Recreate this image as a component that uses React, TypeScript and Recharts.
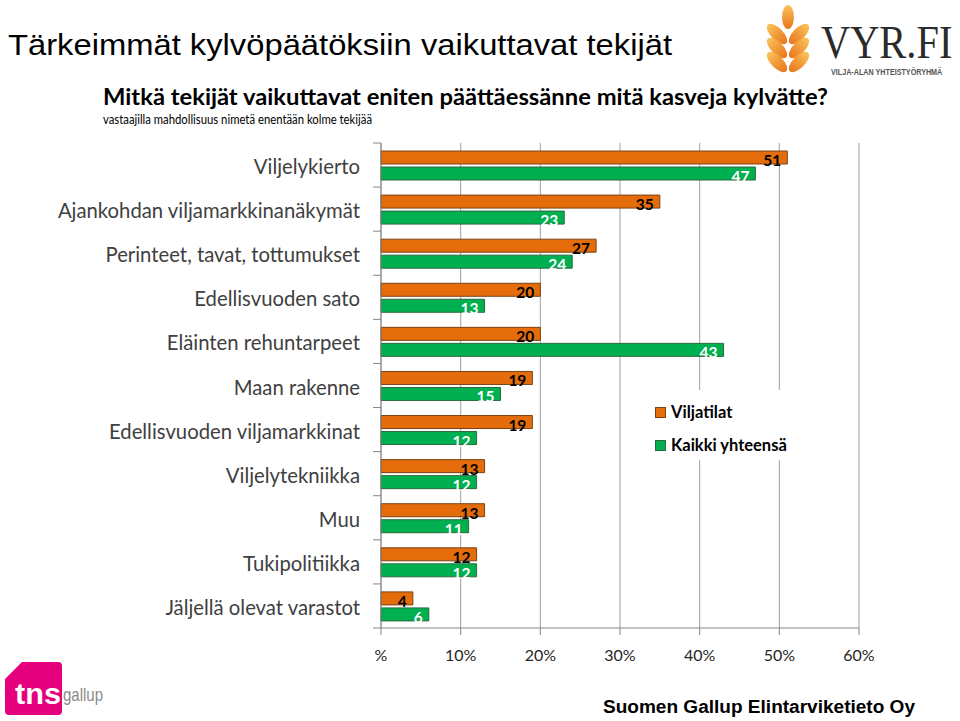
import React from "react";
import {
  BarChart,
  Bar,
  XAxis,
  YAxis,
  CartesianGrid,
  Legend,
  LabelList,
} from "recharts";

const categories = [
  "Viljelykierto",
  "Ajankohdan viljamarkkinanäkymät",
  "Perinteet, tavat, tottumukset",
  "Edellisvuoden sato",
  "Eläinten rehuntarpeet",
  "Maan rakenne",
  "Edellisvuoden viljamarkkinat",
  "Viljelytekniikka",
  "Muu",
  "Tukipolitiikka",
  "Jäljellä olevat varastot",
];

const viljatilat = [51, 35, 27, 20, 20, 19, 19, 13, 13, 12, 4];
const kaikkiYhteensa = [47, 23, 24, 13, 43, 15, 12, 12, 11, 12, 6];

const xTicks = [0, 10, 20, 30, 40, 50, 60];

const SERIES = [
  { key: "viljatilat", name: "Viljatilat", fill: "#E46C0A", stroke: "#7a4214", label: "#000000" },
  { key: "kaikki", name: "Kaikki yhteensä", fill: "#00B050", stroke: "#2c6a3c", label: "#ffffff" },
];

const data = categories.map((name, i) => ({
  name,
  viljatilat: viljatilat[i],
  kaikki: kaikkiYhteensa[i],
}));

const W = 960;
const H = 721;
const PLOT_TOP = 143;
const PLOT_BOTTOM = 628;
const BAND = (PLOT_BOTTOM - PLOT_TOP) / categories.length;

const FONT = "Lato, 'Open Sans', sans-serif";

function CategoryTick(props: any) {
  const { y, payload, index } = props;
  const last = index === categories.length - 1;
  return (
    <g>
      <text
        x={360}
        y={y + 1}
        textAnchor="end"
        dominantBaseline="central"
        fill="#404040"
        fontFamily={FONT}
        fontSize={20.3}
      >
        {payload.value}
      </text>
      <line x1={373} x2={381} y1={y - BAND / 2} y2={y - BAND / 2} stroke="#868686" />
      {last && (
        <line x1={373} x2={381} y1={y + BAND / 2} y2={y + BAND / 2} stroke="#868686" />
      )}
    </g>
  );
}

const makeLabel = (color: string) => (props: any) => {
  const { x, y, width, height, value } = props;
  return (
    <text
      x={x + width - 6}
      y={y + height / 2 + 2.5}
      textAnchor="end"
      dominantBaseline="central"
      fill={color}
      fontFamily={FONT}
      fontWeight={700}
      fontSize={15.5}
    >
      {value}
    </text>
  );
};

function LegendBox() {
  return (
    <div style={{ background: "#fff", width: 205, height: 70, position: "relative" }}>
      {SERIES.map((s, i) => (
        <div
          key={s.key}
          style={{
            position: "absolute",
            left: 10,
            top: 12 + i * 33,
            display: "flex",
            alignItems: "center",
            fontFamily: FONT,
            fontSize: 16.5,
            fontWeight: 700,
            color: "#000",
            lineHeight: "20px",
            whiteSpace: "nowrap",
          }}
        >
          <span
            style={{
              display: "inline-block",
              width: 9,
              height: 9,
              background: s.fill,
              border: `1px solid ${s.stroke}`,
              marginRight: 5,
            }}
          />
          {s.name}
        </div>
      ))}
    </div>
  );
}

function VyrLogo() {
  const leaves = [0, 1, 2];
  return (
    <g>
      <defs>
        <linearGradient id="wheat" x1="0" y1="0" x2="0" y2="1">
          <stop offset="0%" stopColor="#fbc35a" />
          <stop offset="100%" stopColor="#e8761c" />
        </linearGradient>
      </defs>
      <ellipse cx={788} cy={17} rx={6} ry={12} fill="url(#wheat)" />
      {leaves.map((i) => (
        <g key={i}>
          <ellipse
            cx={777}
            cy={34 + i * 14}
            rx={6}
            ry={13}
            fill="url(#wheat)"
            transform={`rotate(-45 777 ${34 + i * 14})`}
          />
          <ellipse
            cx={799}
            cy={34 + i * 14}
            rx={6}
            ry={13}
            fill="url(#wheat)"
            transform={`rotate(45 799 ${34 + i * 14})`}
          />
        </g>
      ))}
      <text
        transform="translate(821 58) scale(0.86 1)"
        fontFamily="'Liberation Serif', 'DejaVu Serif', serif"
        fontSize={47}
        fill="#2b2b2b"
      >
        VYR.FI
      </text>
      <text
        transform="translate(831 75) scale(0.8 1)"
        fontFamily="'Liberation Sans', Arial, sans-serif"
        fontSize={9}
        fontWeight={700}
        fill="#555"
      >
        VILJA-ALAN YHTEISTYÖRYHMÄ
      </text>
    </g>
  );
}

function TnsLogo() {
  return (
    <g>
      <path
        d="M22 662 L58 662 Q62 662 62 666 L62 711 Q62 715 58 715 L9 715 Q5 715 5 711 L5 679 Z"
        fill="#e5007d"
      />
      <text
        x={15}
        y={704}
        fontFamily="'Liberation Sans', Arial, sans-serif"
        fontWeight={700}
        fontSize={29}
        fill="#fff"
        textLength={46}
        lengthAdjust="spacingAndGlyphs"
      >
        tns
      </text>
      <text
        x={63}
        y={701}
        fontFamily="'Liberation Sans', Arial, sans-serif"
        fontSize={19}
        fill="#8a8a8a"
        textLength={40}
        lengthAdjust="spacingAndGlyphs"
      >
        gallup
      </text>
    </g>
  );
}

export default function App() {
  return (
    <div style={{ position: "absolute", left: 0, top: 0, width: W, height: H, background: "#fff" }}>
      <BarChart
        width={W}
        height={H}
        data={data}
        layout="vertical"
        margin={{ top: PLOT_TOP, right: 101, bottom: 63, left: 0 }}
        barSize={13}
        barGap={3}
      >
        <CartesianGrid horizontal={false} stroke="#a0a0a0" />
        <XAxis
          type="number"
          domain={[0, 60]}
          ticks={xTicks}
          tickFormatter={(v: number) => (v === 0 ? "%" : `${v}%`)}
          stroke="#868686"
          tickSize={7}
          tickMargin={15}
          height={30}
          tick={{ fill: "#262626", fontFamily: FONT, fontSize: 16 }}
        />
        <YAxis
          type="category"
          dataKey="name"
          width={381}
          stroke="#868686"
          tickLine={false}
          tick={<CategoryTick />}
          interval={0}
        />
        <Legend
          layout="vertical"
          align="center"
          verticalAlign="middle"
          wrapperStyle={{ left: 645, top: 390, width: 205, height: 70 }}
          content={() => <LegendBox />}
        />
        {SERIES.map((s) => (
          <Bar
            key={s.key}
            dataKey={s.key}
            name={s.name}
            fill={s.fill}
            stroke={s.stroke}
            strokeWidth={1}
            isAnimationActive={false}
          >
            <LabelList dataKey={s.key} content={makeLabel(s.label)} />
          </Bar>
        ))}
      </BarChart>
      <svg
        width={W}
        height={H}
        style={{ position: "absolute", left: 0, top: 0, pointerEvents: "none" }}
      >
        <text
          x={8}
          y={55}
          fontFamily="'Liberation Sans', Arial, sans-serif"
          fontSize={30}
          fill="#000"
          textLength={664}
          lengthAdjust="spacingAndGlyphs"
        >
          Tärkeimmät kylvöpäätöksiin vaikuttavat tekijät
        </text>
        <text
          x={103}
          y={105}
          fontFamily={FONT}
          fontWeight={700}
          fontSize={23}
          fill="#000"
          textLength={725}
          lengthAdjust="spacingAndGlyphs"
        >
          Mitkä tekijät vaikuttavat eniten päättäessänne mitä kasveja kylvätte?
        </text>
        <text
          x={103}
          y={124}
          fontFamily={FONT}
          fontSize={14}
          fill="#000"
          textLength={269}
          lengthAdjust="spacingAndGlyphs"
        >
          vastaajilla mahdollisuus nimetä enentään  kolme tekijää
        </text>
        <text
          x={603}
          y={713}
          fontFamily="'Liberation Sans', Arial, sans-serif"
          fontWeight={700}
          fontSize={18}
          fill="#000"
          textLength={312}
          lengthAdjust="spacingAndGlyphs"
        >
          Suomen Gallup Elintarviketieto Oy
        </text>
        <VyrLogo />
        <TnsLogo />
      </svg>
    </div>
  );
}
